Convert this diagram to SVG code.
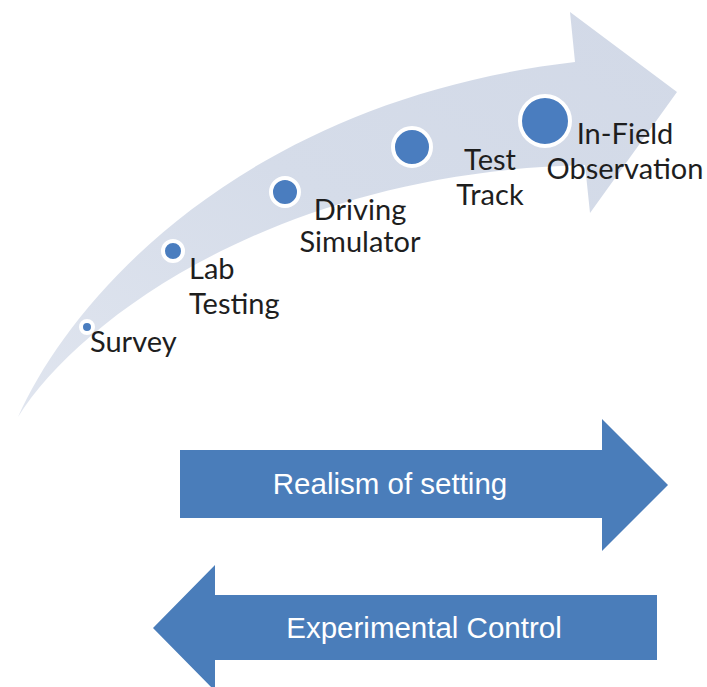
<svg xmlns="http://www.w3.org/2000/svg" width="707" height="687" viewBox="0 0 707 687">
<defs>
<linearGradient id="bandGrad" x1="0" y1="1" x2="1" y2="0">
<stop offset="0" stop-color="#e0e5ef"/>
<stop offset="0.5" stop-color="#d5dce9"/>
<stop offset="1" stop-color="#d2d9e7"/>
</linearGradient>
<style>
.stage{fill:#4a7dbf;stroke:#ffffff;stroke-width:4}
.lbl{font-family:Lato,"Open Sans",sans-serif;font-size:29px;fill:#1e1e1e}
.big{fill:#4a7dba}
.btxt{font-family:"Liberation Sans",Arial,sans-serif;font-size:29.5px;fill:#ffffff;text-anchor:middle}
</style>
</defs>
<rect width="707" height="687" fill="#ffffff"/>
<g id="connectors">
<path id="curved-arrow" d="M18,417 C75,290 250,100 575,62 L570,12 L677,92 L590,213 L585,165 C280,172 80,318 18,417 Z" fill="url(#bandGrad)"/>
</g>
<g id="survey">
<circle class="stage" cx="87" cy="327" r="6"/>
<text class="lbl" x="90" y="352">Survey</text>
</g>
<g id="lab-testing">
<circle class="stage" cx="173" cy="251" r="10"/>
<text class="lbl" x="189" y="279">Lab</text>
<text class="lbl" x="189" y="314">Testing</text>
</g>
<g id="driving-simulator">
<circle class="stage" cx="285" cy="192" r="14"/>
<text class="lbl" x="360" y="220" text-anchor="middle">Driving</text>
<text class="lbl" x="360" y="252" text-anchor="middle">Simulator</text>
</g>
<g id="test-track">
<circle class="stage" cx="412" cy="147" r="19"/>
<text class="lbl" x="490" y="170" text-anchor="middle">Test</text>
<text class="lbl" x="490" y="205" text-anchor="middle">Track</text>
</g>
<g id="in-field">
<circle class="stage" cx="545" cy="121" r="25"/>
<text class="lbl" x="625" y="144" text-anchor="middle">In-Field</text>
<text class="lbl" x="625" y="179" text-anchor="middle">Observation</text>
</g>
<g id="realism">
<polygon class="big" points="180,450 602,450 602,419 668,485 602,551 602,518 180,518"/>
<text class="btxt" x="390" y="494">Realism of setting</text>
</g>
<g id="control">
<polygon class="big" points="657,595 215,595 215,565 153,628 215,691 215,660 657,660"/>
<text class="btxt" x="424" y="638">Experimental Control</text>
</g>
</svg>
